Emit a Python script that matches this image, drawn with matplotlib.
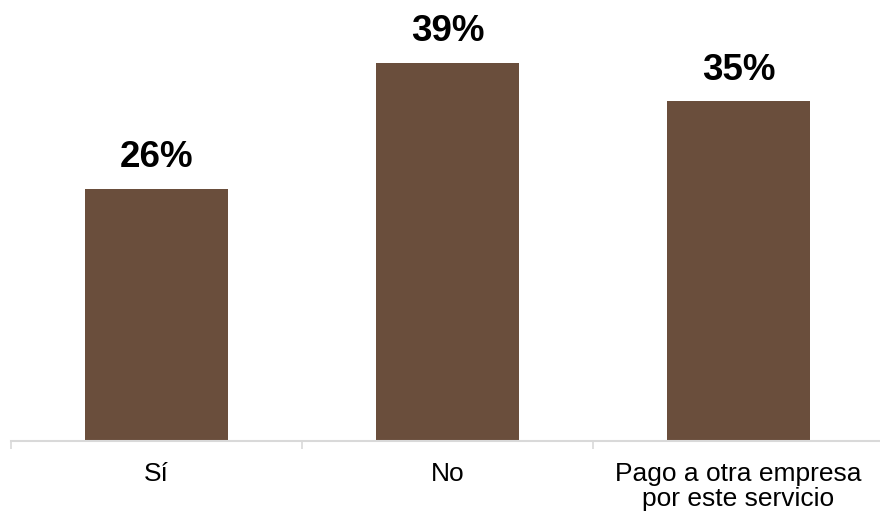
import matplotlib
matplotlib.use('Agg')
import matplotlib.pyplot as plt
import numpy as np

categories = ['Sí', 'No', 'Pago a otra empresa\npor este servicio']
values = [26, 39, 35]
labels = ['26%', '39%', '35%']

plt.rcParams['font.family'] = ['Liberation Sans', 'DejaVu Sans']

fig = plt.figure(figsize=(8.8, 5.16), dpi=100)
# axis runs off the right edge like in the original
ax = fig.add_axes([11 / 880, 75 / 516, 873 / 880, 436.5 / 516])

x = np.arange(len(categories))
bars = ax.bar(x, values, width=0.49, color='#6A4E3C')

for xi, v, lab in zip(x, values, labels):
    ax.annotate(lab, (xi, v), xytext=(0, 10), textcoords='offset points',
                ha='center', va='bottom', fontsize=26.5, fontweight='bold')

ax.set_xlim(-0.5, 2.5)
ax.set_ylim(0, 45)
ax.set_yticks([])
ax.set_xticks(x)
ax.set_xticklabels(categories, fontsize=19, linespacing=1.08)
ax.tick_params(axis='x', which='major', length=0, pad=15)
ax.set_xticks([-0.5, 0.5, 1.5, 2.5], minor=True)
ax.tick_params(axis='x', which='minor', length=6, width=1.2, color='#D9D9D9')

for s in ['top', 'right', 'left']:
    ax.spines[s].set_visible(False)
ax.spines['bottom'].set_color('#D9D9D9')
ax.spines['bottom'].set_linewidth(1.5)

fig.savefig('out.png', dpi=100)
